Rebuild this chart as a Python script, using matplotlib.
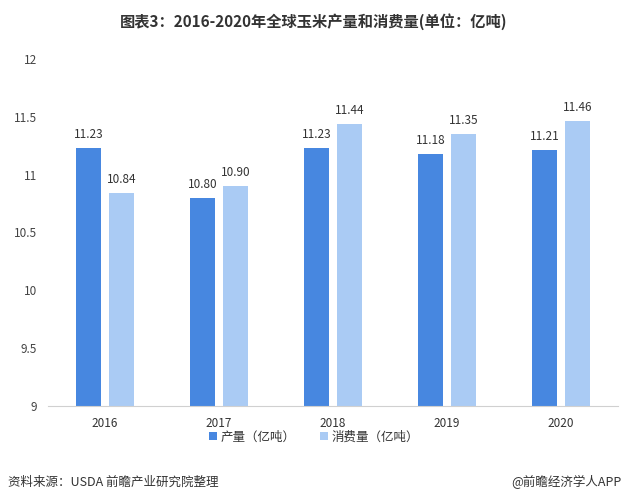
import numpy as np
import matplotlib
matplotlib.use('Agg')
from matplotlib import pyplot as plt

plt.rcParams['font.family'] = ['Noto Sans CJK SC', 'DejaVu Sans']

years = ['2016', '2017', '2018', '2019', '2020']
production = [11.23, 10.80, 11.23, 11.18, 11.21]
consumption = [10.84, 10.90, 11.44, 11.35, 11.46]
y_ticks = [9, 9.5, 10, 10.5, 11, 11.5, 12]

c_prod = '#4787E0'
c_cons = '#AACBF4'

fig = plt.figure(figsize=(6.28, 5.03), dpi=100)
ax = fig.add_axes([0.0764, 0.193, 0.908, 0.69])

x = np.arange(len(years))
w = 0.22
off = 0.145
b1 = ax.bar(x - off, production, w, color=c_prod, label='产量（亿吨）')
b2 = ax.bar(x + off, consumption, w, color=c_cons, label='消费量（亿吨）')

for bars, vals in [(b1, production), (b2, consumption)]:
    for r, v in zip(bars, vals):
        ax.text(r.get_x() + r.get_width() / 2, v + 0.06, '%.2f' % v,
                ha='center', va='bottom', fontsize=8.5, color='#333333')

ax.set_xlim(-0.5, len(years) - 0.5)
ax.set_ylim(9, 12)
ax.set_yticks(y_ticks)
ax.set_yticklabels([('%g' % t) for t in y_ticks], fontsize=8.5, color='#444444')
ax.set_xticks(x)
ax.set_xticklabels(years, fontsize=8.5, color='#333333')
ax.tick_params(axis='both', length=0, pad=8)
for s in ['top', 'right', 'left']:
    ax.spines[s].set_visible(False)
ax.spines['bottom'].set_color('#d0d0d0')

fig.text(0.5, 0.958, '图表3：2016-2020年全球玉米产量和消费量(单位：亿吨)',
         ha='center', va='center', fontsize=11, fontweight='bold', color='#333333')

fig.legend(handles=[b1, b2], loc='center', bbox_to_anchor=(0.5, 0.131), ncol=2,
           frameon=False, fontsize=9, handlelength=0.6, handleheight=0.6,
           handletextpad=0.3, columnspacing=2.0, labelcolor='#333333')

fig.text(0.013, 0.041, '资料来源：USDA 前瞻产业研究院整理', ha='left', va='center',
         fontsize=9, color='#333333')
fig.text(0.99, 0.041, '@前瞻经济学人APP', ha='right', va='center',
         fontsize=9, color='#333333')

plt.savefig('out.png', dpi=100)
